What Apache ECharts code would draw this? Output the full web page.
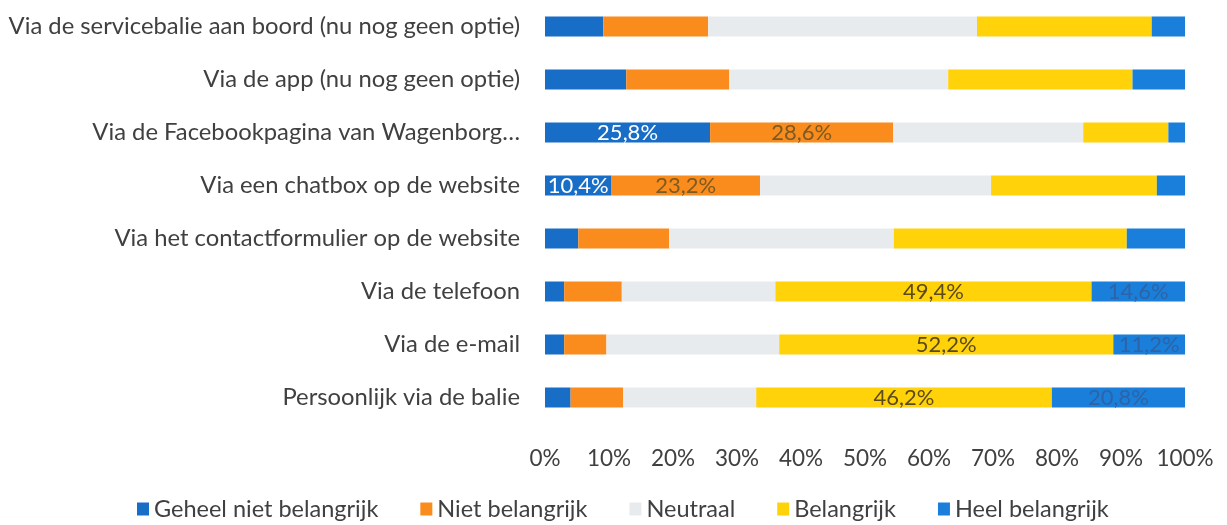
<!DOCTYPE html>
<html>
<head>
<meta charset="utf-8">
<script src="https://cdn.jsdelivr.net/npm/echarts@6/dist/echarts.min.js"></script>
<style>
  html, body { margin: 0; padding: 0; background: #ffffff; }
  #chart { width: 1227px; height: 525px; }
</style>
</head>
<body>
<div id="chart"></div>
<script>
// Contact channels (top to bottom)
const categories = [
  'Via de servicebalie aan boord (nu nog geen optie)',
  'Via de app (nu nog geen optie)',
  'Via de Facebookpagina van Wagenborg\u2026',
  'Via een chatbox op de website',
  'Via het contactformulier op de website',
  'Via de telefoon',
  'Via de e-mail',
  'Persoonlijk via de balie'
];

const seriesNames = ['Geheel niet belangrijk', 'Niet belangrijk', 'Neutraal', 'Belangrijk', 'Heel belangrijk'];

// Shares in percent per channel
const geheelNiet = [9.1, 12.7, 25.8, 10.4, 5.2, 3.0, 3.0, 4.0];
const niet       = [16.4, 16.1, 28.6, 23.2, 14.2, 9.0, 6.6, 8.2];
const neutraal   = [42.0, 34.2, 29.7, 36.1, 35.1, 24.0, 27.0, 20.8];
const belangrijk = [27.3, 28.8, 13.3, 25.9, 36.4, 49.4, 52.2, 46.2];
const heel       = [5.2, 8.2, 2.6, 4.4, 9.1, 14.6, 11.2, 20.8];

// Which rows carry a value label, per series
const labelRows = [[2, 3], [2, 3], [], [5, 6, 7], [5, 6, 7]];

const xTicks = [0, 10, 20, 30, 40, 50, 60, 70, 80, 90, 100];

const colors = ['#186DC7', '#F98C1D', '#E7EBED', '#FFD20A', '#1A7FDA'];
const labelColors = ['#ffffff', '#7d5a22', '#555555', '#5b4a1c', '#2d64a6'];

const allValues = [geheelNiet, niet, neutraal, belangrijk, heel];

const fontFamily = 'Lato, "Open Sans", sans-serif';

const series = allValues.map((vals, si) => ({
  name: seriesNames[si],
  type: 'bar',
  stack: 'total',
  barWidth: 20,
  itemStyle: { color: colors[si] },
  emphasis: { disabled: true },
  data: vals.map((v, i) => ({
    value: v,
    label: {
      show: labelRows[si].includes(i),
      position: 'inside',
      color: labelColors[si],
      fontFamily: fontFamily,
      fontSize: 22,
      formatter: (p) => p.value.toFixed(1).replace('.', ',') + '%'
    }
  }))
}));

const chart = echarts.init(document.getElementById('chart'), null, { renderer: 'canvas' });
chart.setOption({
  animation: false,
  backgroundColor: '#ffffff',
  color: colors,
  textStyle: { fontFamily: fontFamily },
  grid: { left: 545, right: 42, top: -5, bottom: 101, containLabel: false },
  xAxis: {
    type: 'value',
    min: 0,
    max: 100,
    interval: 10,
    axisLine: { show: false },
    axisTick: { show: false },
    splitLine: { show: false },
    axisLabel: {
      margin: 23,
      color: '#404040',
      fontSize: 22.5,
      fontFamily: fontFamily,
      formatter: (v) => (xTicks.includes(v) ? v + '%' : '')
    }
  },
  yAxis: {
    type: 'category',
    inverse: true,
    data: categories,
    axisLine: { show: false },
    axisTick: { show: false },
    axisLabel: {
      margin: 25,
      color: '#404040',
      fontSize: 23.8,
      fontFamily: fontFamily
    }
  },
  legend: {
    bottom: -1,
    left: 132,
    icon: 'rect',
    itemWidth: 12,
    itemHeight: 13,
    itemGap: 42,
    textStyle: { color: '#404040', fontSize: 23.5, fontFamily: fontFamily },
    data: seriesNames
  },
  series: series
});
</script>
</body>
</html>
